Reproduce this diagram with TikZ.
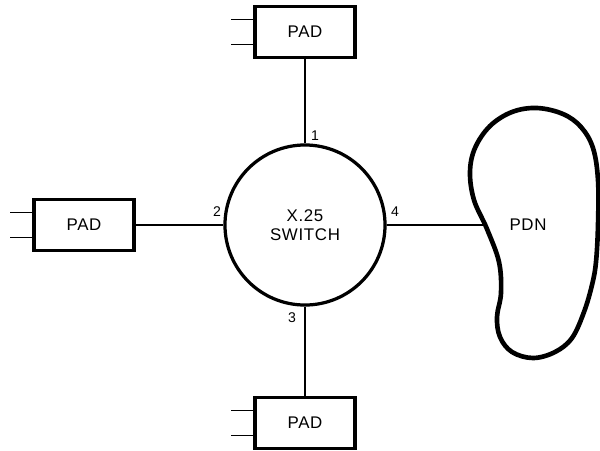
\documentclass[tikz,border=0pt]{standalone}
\usepackage{fontspec}
\setmainfont{Liberation Sans}[LetterSpace=4]
\usetikzlibrary{positioning,calc,intersections}

\begin{document}
\begin{tikzpicture}[
  x=0.025cm, y=-0.025cm,
  pad/.style={
    draw,
    line width=2.3pt,
    minimum width=2.5cm,
    minimum height=1.275cm,
    font=\fontsize{12}{14}\selectfont,
  },
  line/.style={
    line width=1.3pt,
  },
  port/.style={
    inner sep=0pt,
    font=\fontsize{10}{12}\selectfont,
  }]
  \useasboundingbox (0,0) rectangle (600,450);
  \node[circle, draw, line width=2.3pt, minimum size=4cm, align=center,
    font=\fontsize{12}{13.5}\selectfont] (sw) at (305,225) {X.25\\SWITCH};
  \node[pad] (padN) at (305,32) {PAD};
  \node[pad] (padW) at (84,225) {PAD};
  \node[pad] (padS) at (305,423) {PAD};
  % packet data network
  \draw[line width=3.3pt, name path=pdn] plot[smooth cycle, tension=0.6] coordinates {
    (537,108) (563,114) (581,127) (593,148) (598,180) (598,225) (596,262)
    (592,285) (584,312) (572,338) (555,352) (533,358) (512,352) (500,337)
    (497,317) (501,293) (499,262) (487,229) (474,200) (470,172) (475,148)
    (490,126) (512,112)};
  \node[font=\fontsize{12}{14}\selectfont] (pdnlab) at (528,225) {PDN};
  \path[name path=toPDN] (sw.east) -- ++(150,0);
  \path[name intersections={of=pdn and toPDN, by=pdnin}];
  % links
  \draw[line] (padN) -- (sw);
  \draw[line] (padW) -- (sw);
  \draw[line] (padS) -- (sw);
  \draw[line] (sw.east) -- (pdnin);
  \foreach \p in {padN,padW,padS}
  {
    \foreach \dy in {-12.5,12.5}
      \draw[line] (\p.west) ++(0,\dy) -- ++(-22,0);
  }
  \node[port] (p1) at (315,136) {1};
  \node[port] (p2) at (217,212) {2};
  \node[port] (p3) at (292,318) {3};
  \node[port] (p4) at (395,212) {4};
\end{tikzpicture}
\end{document}
